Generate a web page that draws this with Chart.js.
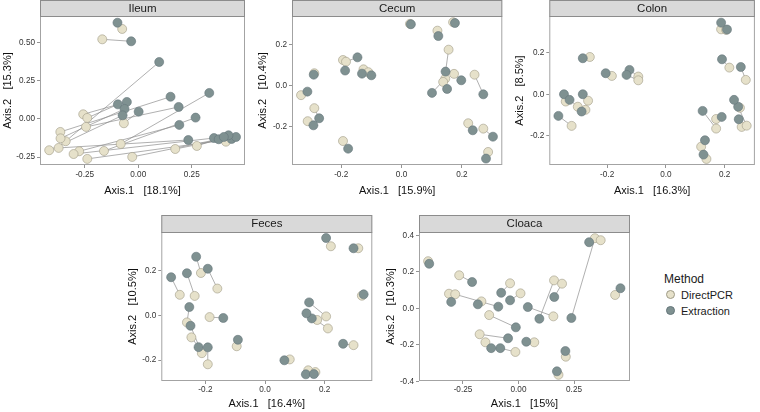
<!DOCTYPE html>
<html>
<head>
<meta charset="utf-8">
<script src="https://cdn.jsdelivr.net/npm/chart.js@4.4.0/dist/chart.umd.min.js"></script>
<style>
    body { margin: 0; width: 760px; height: 412px; position: relative; overflow: hidden; background: #fff;
           font-family: "Liberation Sans", Arial, sans-serif; }
    canvas { position: absolute; }
    .legend { position: absolute; left: 664px; top: 271px; color: #1a1a1a; }
    .legend .title { font-size: 12px; line-height: 16px; }
    .legend .item { position: relative; height: 16px; font-size: 11px; line-height: 16px; padding-left: 17px; margin-left: 0; }
    .legend .dot { position: absolute; left: 2px; top: 3px; width: 9px; height: 9px; border-radius: 50%; box-sizing: border-box; }
</style>
</head>
<body>
<canvas id="ileum" width="255" height="200" style="left:0px;top:0px"></canvas>
<canvas id="cecum" width="255" height="200" style="left:255px;top:0px"></canvas>
<canvas id="colon" width="248" height="200" style="left:512px;top:0px"></canvas>
<canvas id="feces" width="255" height="197" style="left:125px;top:215px"></canvas>
<canvas id="cloaca" width="257" height="197" style="left:383px;top:215px"></canvas>
<div class="legend">
    <div class="title">Method</div>
    <div class="item"><span class="dot" id="dotPcr"></span>DirectPCR</div>
    <div class="item"><span class="dot" id="dotExt"></span>Extraction</div>
</div>
<script>
// Colours of the two methods
const pcrFill = '#e6e1ca', pcrLine = '#9f9b87';
const extFill = '#7f9191', extLine = '#65767a';

// Ordination coordinates [Axis.1, Axis.2]; the i-th DirectPCR point pairs with the i-th Extraction point
const ileumPcr = [[-0.168,0.523],[-0.075,0.591],[-0.339,-0.146],[-0.364,-0.085],[-0.082,-0.164],[-0.244,-0.052],[-0.160,-0.210],[-0.276,-0.212],[-0.372,-0.190],[-0.238,-0.262],[-0.302,-0.230],[0.173,-0.197],[-0.028,-0.249],[0.274,-0.177],[0.410,-0.149],[-0.067,-0.028],[-0.257,0.031],[-0.238,0.007],[-0.363,-0.127],[-0.416,-0.205]];
const ileumExt = [[-0.033,0.510],[-0.097,0.632],[0.098,0.374],[0.151,0.146],[0.332,0.171],[0.189,0.079],[0.268,0.009],[0.192,-0.039],[0.234,-0.138],[0.436,-0.131],[0.354,-0.125],[0.457,-0.118],[0.376,-0.133],[0.422,-0.107],[0.400,-0.118],[0.002,0.048],[-0.053,0.112],[-0.095,0.096],[-0.064,0.066],[-0.073,0.024]];

const cecumPcr = [[0.028,0.299],[0.171,0.307],[0.119,0.266],[-0.194,0.124],[-0.184,0.116],[-0.289,0.060],[-0.126,0.079],[-0.110,0.065],[-0.333,-0.046],[0.156,0.174],[0.174,0.057],[0.145,0.034],[0.138,0.018],[0.242,0.053],[-0.289,-0.109],[-0.311,-0.172],[-0.194,-0.268],[0.221,-0.182],[0.271,-0.208],[0.287,-0.321]];
const cecumExt = [[0.031,0.297],[0.177,0.303],[0.122,0.240],[-0.187,0.073],[-0.146,0.137],[-0.291,0.053],[-0.131,0.058],[-0.100,0.050],[-0.312,-0.029],[0.146,0.068],[0.198,0.026],[0.101,-0.035],[0.151,-0.016],[0.271,-0.042],[-0.273,-0.158],[-0.292,-0.192],[-0.177,-0.305],[0.236,-0.216],[0.303,-0.247],[0.280,-0.353]];

const colonPcr = [[-0.341,-0.035],[-0.300,-0.060],[-0.265,-0.031],[-0.274,-0.075],[-0.321,-0.152],[-0.259,0.179],[-0.184,0.088],[-0.094,0.085],[-0.094,0.067],[0.171,-0.119],[0.171,-0.165],[0.120,-0.252],[0.138,-0.311],[0.188,0.312],[0.205,0.309],[0.216,0.128],[0.272,0.069],[0.258,-0.157],[0.275,-0.151],[0.252,-0.065]];
const colonExt = [[-0.347,0.000],[-0.328,-0.027],[-0.283,0.000],[-0.287,-0.083],[-0.366,-0.104],[-0.283,0.173],[-0.205,0.101],[-0.124,0.117],[-0.134,0.093],[0.190,-0.109],[0.125,-0.080],[0.133,-0.221],[0.128,-0.290],[0.188,0.344],[0.208,0.311],[0.191,0.168],[0.255,0.131],[0.248,-0.120],[0.246,-0.060],[0.232,-0.027]];

const fecesPcr = [[-0.286,0.093],[-0.215,0.191],[-0.236,0.088],[-0.160,0.121],[-0.262,-0.031],[-0.212,-0.169],[-0.247,-0.098],[-0.192,-0.219],[-0.186,-0.007],[-0.095,-0.138],[0.083,-0.197],[0.145,-0.246],[0.169,-0.254],[0.205,-0.004],[0.175,-0.020],[0.211,-0.058],[0.297,-0.133],[0.221,0.311],[0.313,0.302],[0.325,0.089]];
const fecesExt = [[-0.315,0.172],[-0.231,0.264],[-0.262,0.190],[-0.192,0.210],[-0.254,0.038],[-0.250,-0.046],[-0.223,-0.142],[-0.192,-0.143],[-0.140,-0.011],[-0.091,-0.109],[0.065,-0.201],[0.137,-0.264],[0.164,-0.263],[0.148,0.059],[0.157,-0.013],[0.139,0.010],[0.262,-0.127],[0.205,0.348],[0.297,0.302],[0.331,0.095]];

const cloacaPcr = [[-0.407,0.258],[-0.267,0.181],[-0.313,0.080],[-0.285,0.077],[-0.167,0.038],[-0.038,0.137],[0.009,0.082],[-0.132,-0.037],[-0.175,-0.142],[-0.149,-0.186],[-0.014,-0.239],[0.071,-0.186],[0.160,0.153],[0.196,0.135],[0.157,-0.044],[0.344,0.384],[0.370,0.373],[0.213,-0.265],[0.180,-0.364],[0.435,0.073]];
const cloacaExt = [[-0.402,0.244],[-0.209,0.144],[-0.303,0.035],[-0.091,0.009],[-0.183,0.022],[-0.078,0.085],[-0.038,0.044],[-0.012,-0.104],[-0.047,-0.164],[-0.123,-0.218],[-0.082,-0.218],[0.035,-0.183],[0.094,-0.057],[0.161,0.062],[0.042,0.007],[0.238,-0.053],[0.318,0.362],[0.211,-0.234],[0.173,-0.345],[0.459,0.110]];

// Tick values and their labels
const ileumXTicks = [-0.25, 0, 0.25], ileumXLabels = ['-0.25', '0.00', '0.25'];
const ileumYTicks = [-0.25, 0, 0.25, 0.5], ileumYLabels = ['-0.25', '0.00', '0.25', '0.50'];
const tenthTicks = [-0.2, 0, 0.2], tenthLabels = ['-0.2', '0.0', '0.2'];
const cloacaXTicks = [-0.25, 0, 0.25], cloacaXLabels = ['-0.25', '0.00', '0.25'];
const cloacaYTicks = [-0.4, -0.2, 0, 0.2, 0.4], cloacaYLabels = ['-0.4', '-0.2', '0.0', '0.2', '0.4'];

const fontFamily = '"Liberation Sans", Arial, sans-serif';
Chart.defaults.font.family = fontFamily;

// Grey strip with the facet name plus the panel border
const facetFrame = {
    id: 'facetFrame',
    afterDatasetsDraw(chart, args, opts) {
        const { ctx, chartArea: a } = chart;
        const w = a.right - a.left;
        ctx.save();
        ctx.lineWidth = 1;
        ctx.strokeStyle = '#a3a3a3';
        ctx.strokeRect(a.left + 0.5, a.top + 0.5, w - 1, a.bottom - a.top - 1);
        ctx.fillStyle = '#d9d9d9';
        ctx.fillRect(a.left, a.top - opts.height, w, opts.height);
        ctx.strokeStyle = '#8c8c8c';
        ctx.strokeRect(a.left + 0.5, a.top - opts.height + 0.5, w - 1, opts.height);
        ctx.fillStyle = '#1a1a1a';
        ctx.font = '11.5px ' + fontFamily;
        ctx.textAlign = 'center';
        ctx.textBaseline = 'middle';
        ctx.fillText(opts.text, a.left + w / 2, a.top - opts.height / 2 + 0.5);
        ctx.restore();
    }
};

const toPoints = (arr) => arr.map(([x, y]) => ({ x, y }));

const makePanel = (p) => {
    const lineSets = p.pcr.map((pt, i) => ({
        data: toPoints([pt, p.ext[i]]),
        showLine: true,
        borderColor: '#8e8e8e',
        borderWidth: 0.7,
        pointRadius: 0,
        order: 2
    }));

    const tickFont = { size: 8.2 };
    new Chart(document.getElementById(p.id), {
        type: 'scatter',
        data: {
            datasets: [
                { label: 'Extraction', data: toPoints(p.ext), backgroundColor: extFill, borderColor: extLine,
                  borderWidth: 0.6, pointRadius: 4.5, order: 0 },
                { label: 'DirectPCR', data: toPoints(p.pcr), backgroundColor: pcrFill, borderColor: pcrLine,
                  borderWidth: 0.6, pointRadius: 4.5, order: 1 },
                ...lineSets
            ]
        },
        options: {
            responsive: false,
            animation: false,
            events: [],
            devicePixelRatio: 1,
            layout: { padding: { top: p.stripH, right: p.padRight, left: 0, bottom: 0 } },
            plugins: {
                legend: { display: false },
                tooltip: { enabled: false },
                facetFrame: { text: p.name, height: p.stripH }
            },
            scales: {
                x: {
                    type: 'linear', min: p.xMin, max: p.xMax,
                    afterBuildTicks: (s) => { s.ticks = p.xTicks.map(v => ({ value: v })); },
                    afterFit: (s) => { s.height = p.xAxisH; },
                    ticks: { callback: (v, i) => p.xLabels[i], font: tickFont, color: '#333',
                             padding: p.xTickPad, maxRotation: 0, autoSkip: false },
                    grid: { drawOnChartArea: false, tickLength: 3, color: '#666', lineWidth: 0.7 },
                    border: { display: false },
                    title: { display: true, text: p.xTitle, font: { size: 11 }, color: '#111',
                             padding: { top: 0, bottom: p.xTitlePad } }
                },
                y: {
                    type: 'linear', min: p.yMin, max: p.yMax,
                    afterBuildTicks: (s) => { s.ticks = p.yTicks.map(v => ({ value: v })); },
                    afterFit: (s) => { s.width = p.yAxisW; },
                    ticks: { callback: (v, i) => p.yLabels[i], font: tickFont, color: '#333',
                             padding: 2, autoSkip: false },
                    grid: { drawOnChartArea: false, tickLength: 3, color: '#666', lineWidth: 0.7 },
                    border: { display: false },
                    title: { display: true, text: p.yTitle, font: { size: 11 }, color: '#111',
                             padding: { top: 1, bottom: 0 } }
                }
            }
        },
        plugins: [facetFrame]
    });
};

const panels = [
    { id: 'ileum', name: 'Ileum', pcr: ileumPcr, ext: ileumExt,
      xMin: -0.459, xMax: 0.499, yMin: -0.302, yMax: 0.676,
      xTicks: ileumXTicks, xLabels: ileumXLabels, yTicks: ileumYTicks, yLabels: ileumYLabels,
      xTitle: 'Axis.1   [18.1%]', yTitle: 'Axis.2   [15.3%]',
      stripH: 16, padRight: 10, yAxisW: 40, xAxisH: 35, xTickPad: 1.5, xTitlePad: 2.7 },
    { id: 'cecum', name: 'Cecum', pcr: cecumPcr, ext: cecumExt,
      xMin: -0.363, xMax: 0.334, yMin: -0.384, yMax: 0.337,
      xTicks: tenthTicks, xLabels: tenthLabels, yTicks: tenthTicks, yLabels: tenthLabels,
      xTitle: 'Axis.1   [15.9%]', yTitle: 'Axis.2   [10.4%]',
      stripH: 16, padRight: 7.7, yAxisW: 37, xAxisH: 35, xTickPad: 1.5, xTitlePad: 2.7 },
    { id: 'colon', name: 'Colon', pcr: colonPcr, ext: colonExt,
      xMin: -0.397, xMax: 0.303, yMin: -0.340, yMax: 0.376,
      xTicks: tenthTicks, xLabels: tenthLabels, yTicks: tenthTicks, yLabels: tenthLabels,
      xTitle: 'Axis.1   [16.3%]', yTitle: 'Axis.2   [8.5%]',
      stripH: 16, padRight: 1.5, yAxisW: 37.3, xAxisH: 35, xTickPad: 1.5, xTitlePad: 2.7 },
    { id: 'feces', name: 'Feces', pcr: fecesPcr, ext: fecesExt,
      xMin: -0.348, xMax: 0.360, yMin: -0.294, yMax: 0.375,
      xTicks: tenthTicks, xLabels: tenthLabels, yTicks: tenthTicks, yLabels: tenthLabels,
      xTitle: 'Axis.1   [16.4%]', yTitle: 'Axis.2   [10.5%]',
      stripH: 17, padRight: 7.7, yAxisW: 36.3, xAxisH: 31, xTickPad: 0.5, xTitlePad: 1.4 },
    { id: 'cloaca', name: 'Cloaca', pcr: cloacaPcr, ext: cloacaExt,
      xMin: -0.448, xMax: 0.502, yMin: -0.398, yMax: 0.418,
      xTicks: cloacaXTicks, xLabels: cloacaXLabels, yTicks: cloacaYTicks, yLabels: cloacaYLabels,
      xTitle: 'Axis.1   [15%]', yTitle: 'Axis.2   [10.3%]',
      stripH: 17, padRight: 10, yAxisW: 36, xAxisH: 31, xTickPad: 0.5, xTitlePad: 1.4 }
];

panels.forEach(makePanel);

// Legend keys
const dotPcr = document.getElementById('dotPcr');
dotPcr.style.background = pcrFill;
dotPcr.style.border = '0.6px solid ' + pcrLine;
const dotExt = document.getElementById('dotExt');
dotExt.style.background = extFill;
dotExt.style.border = '0.6px solid ' + extLine;
</script>
</body>
</html>
